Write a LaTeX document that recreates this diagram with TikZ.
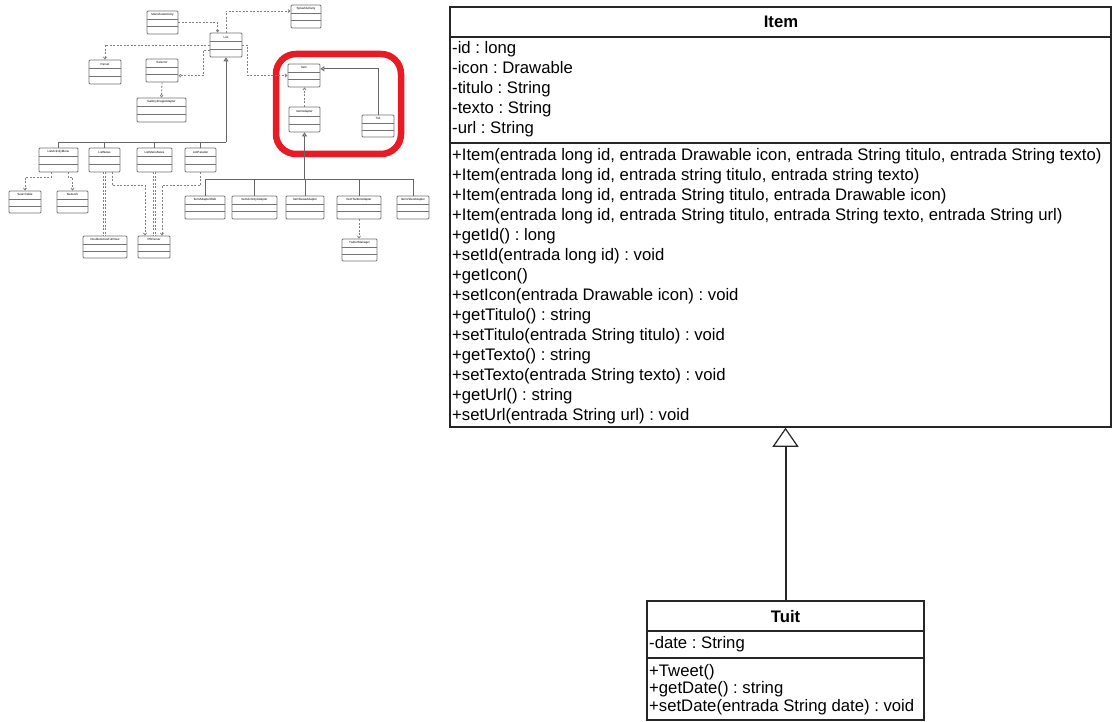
\documentclass[tikz,border=0pt]{standalone}
\usepackage{fontspec}
\setmainfont{Liberation Sans}
\usetikzlibrary{arrows.meta,fit,calc}
\definecolor{hl}{RGB}{232,26,36}
\frenchspacing
\tikzset{
 umlbox/.style={draw=black!85, line width=1.5pt, inner sep=0pt, fill=white},
 sepline/.style={draw=black!85, line width=1.5pt},
 txt/.style={anchor=base west, inner sep=0pt, font=\fontsize{16.7}{20}\selectfont},
 ttl/.style={anchor=base, inner sep=0pt, font=\fontsize{16.7}{20}\selectfont\bfseries},
 tb/.style={draw=black!55, line width=0.8pt, rounded corners=1pt, inner sep=0pt, fill=white},
 tbsep/.style={draw=black!55, line width=0.6pt},
 tlab/.style={inner sep=0pt, font=\fontsize{3}{3.5}\selectfont},
 dsh/.style={draw=black!50, line width=0.8pt, dash pattern=on 2pt off 1.5pt},
 dbl/.style={draw=black!50, line width=0.6pt, dash pattern=on 2pt off 1.5pt, double=white, double distance=1.2pt},
 sol/.style={draw=black!60, line width=0.9pt},
 gen/.style={-{Triangle[open,length=4pt,width=5pt]}},
 dep/.style={-{Straight Barb[length=2pt,width=3pt]}},
}
\newcommand\umlthumb[6]{%
 \node[tb, fit={(#2,#3) (#4,#5)}] (#1) {};
 \draw[tbsep] ($(#1.north west)!0.36!(#1.south west)$) -- ($(#1.north east)!0.36!(#1.south east)$);
 \draw[tbsep] ($(#1.north west)!0.68!(#1.south west)$) -- ($(#1.north east)!0.68!(#1.south east)$);
 \node[tlab] (#1-l) at ($(#1.north)!0.18!(#1.south)$) {#6};
}
\begin{document}
\frenchspacing
\begin{tikzpicture}[x=1pt,y=-1pt]
\useasboundingbox (0,0) rectangle (1113,722);
\fill[white] (0,0) rectangle (1113,722);

% ---------- thumbnail overview ----------
\draw[hl, line width=6.5pt, rounded corners=20pt] (276,54) rectangle (401,154);

\umlthumb{mainv}{147}{11}{178}{34}{MainViewActivity}
\umlthumb{splash}{291}{5}{321}{28}{SplashActivity}
\umlthumb{list}{210}{33}{242}{57}{List}
\umlthumb{parser}{89}{60}{121}{84}{Parser}
\umlthumb{selector}{146}{59}{178}{82}{Selector}
\umlthumb{gallery}{137}{98}{186}{122}{GalleryImageAdapter}
\umlthumb{itemS}{288}{64}{320}{87}{Item}
\umlthumb{itemad}{289}{107}{320}{132}{ItemAdapter}
\umlthumb{tuitS}{362}{115}{394}{137}{Tuit}

\umlthumb{lam}{39}{148}{78}{172}{ListActivityMenu}
\umlthumb{ln}{89}{148}{120}{172}{ListNews}
\umlthumb{lmn}{137}{148}{172}{172}{ListMenuNews}
\umlthumb{lp}{185}{148}{216}{172}{ListParader}
\umlthumb{search}{9}{191}{41}{213}{Searchable}
\umlthumb{network}{57}{191}{88}{213}{Network}
\umlthumb{dafv}{83}{236}{127}{258}{DoubleActiveFullView}
\umlthumb{rsp}{138}{236}{170}{258}{RSParser}

\umlthumb{iaw}{185}{196}{225}{219}{ItemAdapterWeb}
\umlthumb{iaa}{232}{196}{277}{219}{ItemActivityAdapter}
\umlthumb{ina}{286}{196}{324}{219}{ItemNewsAdapter}
\umlthumb{ita}{337}{196}{381}{219}{ItemTwitterAdapter}
\umlthumb{iva}{397}{196}{429}{219}{ItemVideoAdapter}
\umlthumb{twm}{342}{239}{377}{261}{TwitterManager}

% thumbnail connectors
\draw[dsh, dep] (mainv.east) -| ([xshift=8pt]list.north west);
\draw[dsh, dep] (list.north) |- ($(splash.north west)!0.27!(splash.south west)$);
\draw[dsh, dep] (list.west) -| (parser.north);
\draw[dsh, dep] ($(list.north west)!0.7!(list.south west)$) -- ++(-6,0) |- ($(selector.north east)!0.72!(selector.south east)$);
\draw[dsh, dep] (selector.south) -- (gallery.north);
\draw[dsh, dep] (list.east) -- ++(5,0) |- (itemS.west);
\draw[dsh, dep] (itemad.north) -- (itemad.north |- itemS.south);
\draw[sol, gen] (tuitS.north) |- ($(itemS.north east)!0.22!(itemS.south east)$);

\draw[sol, {Triangle[open,length=4pt,width=5pt]}-] (itemad.south) -- ++(0,47) coordinate (ab);
\foreach \c in {iaw,iaa,ina,ita,iva} \draw[sol] (ab) -| (\c.north);
\draw[dsh, dep] (ita.south) -- (ita.south |- twm.north);

\draw[sol, {Triangle[open,length=4pt,width=5pt]}-] (list.south) -- ++(0,85) coordinate (lb);
\foreach \c in {lam,ln,lmn,lp} \draw[sol] (lb) -| (\c.north);

\draw[dsh, dep] ([xshift=-7.5pt]lam.south) -- ++(0,5) -| (search.north);
\draw[dsh, dep] ([xshift=9.5pt]lam.south) -- ++(0,5) -| (network.north);
\draw[dbl] (ln.south) -- (ln.south |- dafv.north);
\draw[dsh, dep] ([xshift=7.5pt]ln.south) -- ++(0,13) -| ([xshift=-9pt]rsp.north);
\draw[dbl] (lmn.south) -- (lmn.south |- rsp.north);
\draw[dsh, dep] (lp.south) -- ++(0,13) -| ([xshift=8pt]rsp.north);

% ---------- Item class ----------
\node[umlbox, fit={(450,7) (1111,427)}] (item) {};
\draw[sepline] (item.west |- 0,37) -- (item.east |- 0,37);
\draw[sepline] (item.west |- 0,143) -- (item.east |- 0,143);
\node[ttl] (itemname) at (781,28) {Item};
\foreach \t [count=\i] in {{-id : long},{-icon : Drawable},{-titulo : String},{-texto : String},{-url : String}}
  \node[txt] (ia\i) at (452,{54+20*(\i-1)}) {\t};
\foreach \t [count=\i] in {
 {+Item(entrada long id, entrada Drawable icon, entrada String titulo, entrada String texto)},
 {+Item(entrada long id, entrada string titulo, entrada string texto)},
 {+Item(entrada long id, entrada String titulo, entrada Drawable icon)},
 {+Item(entrada long id, entrada String titulo, entrada String texto, entrada String url)},
 {+getId() : long},
 {+setId(entrada long id) : void},
 {+getIcon()},
 {+setIcon(entrada Drawable icon) : void},
 {+getTitulo() : string},
 {+setTitulo(entrada String titulo) : void},
 {+getTexto() : string},
 {+setTexto(entrada String texto) : void},
 {+getUrl() : string},
 {+setUrl(entrada String url) : void}}
  \node[txt] (im\i) at (452,{160.5+20*(\i-1)}) {\t};

% ---------- Tuit class ----------
\node[umlbox, fit={(647,601) (924,720)}] (tuit) {};
\draw[sepline] (tuit.west |- 0,631) -- (tuit.east |- 0,631);
\draw[sepline] (tuit.west |- 0,658) -- (tuit.east |- 0,658);
\node[ttl] (tuitname) at (785.5,622) {Tuit};
\node[txt] (ta1) at (649,648) {-date : String};
\node[txt] (tm1) at (649,676) {+Tweet()};
\node[txt] (tm2) at (649,693.5) {+getDate() : string};
\node[txt] (tm3) at (649,711) {+setDate(entrada String date) : void};

% generalization
\draw[black!85, line width=2pt, -{Triangle[open,length=19pt,width=26pt,line width=1.2pt]}] (tuit.north) -- (tuit.north |- item.south);
\end{tikzpicture}
\end{document}
